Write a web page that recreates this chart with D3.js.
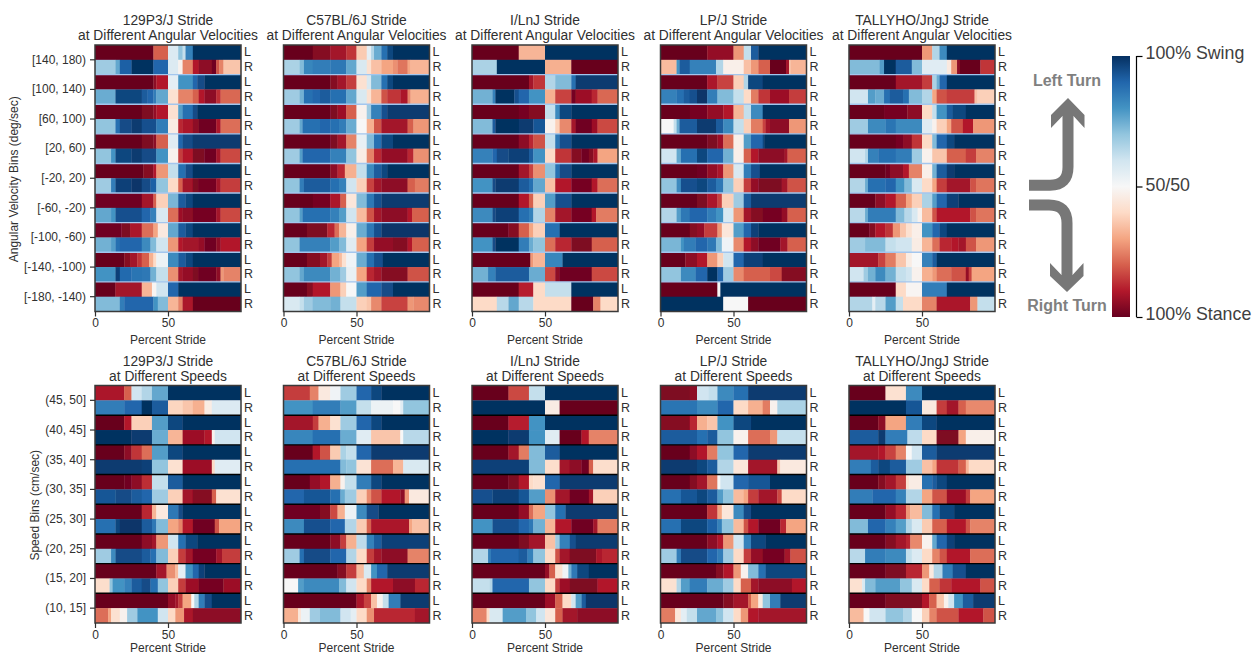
<!DOCTYPE html>
<html>
<head>
<meta charset="utf-8">
<script src="https://d3js.org/d3.v7.min.js"></script>
<style>
  body { margin: 0; background: #fff; }
  svg { display: block; }
  text { font-family: "Liberation Sans", Arial, sans-serif; fill: #303030; }
</style>
</head>
<body>
<svg id="chart" width="1257" height="656"></svg>
<script>
// every row below is a flat list: stop, value, stop, value ...
// stop = percent stride where that band ends, value = 0 (100% stance) .. 100 (100% swing)
var strains = ["129P3/J", "C57BL/6J", "I/LnJ", "LP/J", "TALLYHO/JngJ"];
var angularBins = ["[140, 180)", "[100, 140)", "[60, 100)", "[20, 60)", "[-20, 20)", "[-60, -20)", "[-100, -60)", "[-140, -100)", "[-180, -140)"];
var speedBins = ["(45, 50]", "(40, 45]", "(35, 40]", "(30, 35]", "(25, 30]", "(20, 25]", "(15, 20]", "(10, 15]"];
var sides = ["L", "R"];
var xTicks = [0, 50];
var colorStops = ["#67001f", "#b2182b", "#d6604d", "#f4a582", "#fddbc7", "#f7f7f7", "#d1e5f0", "#92c5de", "#4393c3", "#2166ac", "#053061"];

var angular129 = [
  [40,0, 50,20, 57,57, 60,70, 62,62, 67,84, 100,100],
  [14,68, 17,76, 25,91, 40,100, 50,90, 57,57, 60,48, 67,25, 71,10, 80,5, 83,1, 85,18, 88,25, 100,36],
  [40,0, 42,5, 50,10, 57,55, 67,80, 70,90, 75,95, 100,100],
  [14,75, 32,96, 36,92, 40,90, 42,85, 50,76, 57,42, 67,25, 71,20, 75,10, 83,5, 86,13, 100,21],
  [32,0, 40,3, 42,6, 50,10, 57,42, 60,78, 67,88, 70,95, 100,100],
  [14,70, 17,88, 25,95, 32,98, 42,94, 50,85, 57,46, 60,12, 67,9, 71,5, 83,1, 86,9, 100,22],
  [32,0, 40,3, 42,5, 50,20, 57,56, 60,90, 67,95, 100,98],
  [11,70, 14,80, 25,96, 32,98, 42,95, 50,80, 57,48, 60,15, 67,10, 75,3, 83,1, 86,8, 100,17],
  [33,0, 40,4, 42,10, 50,28, 57,62, 62,88, 67,95, 100,100],
  [11,68, 14,85, 25,97, 32,99, 38,95, 42,91, 50,70, 57,40, 60,20, 67,8, 71,3, 83,2, 86,8, 100,15],
  [32,1, 40,8, 42,20, 50,38, 57,73, 62,92, 67,96, 100,100],
  [11,76, 14,80, 32,94, 38,90, 42,84, 50,58, 57,22, 60,7, 67,5, 83,2, 86,8, 100,17],
  [18,1, 24,3, 32,9, 40,22, 43,30, 50,45, 57,76, 62,92, 67,96, 100,100],
  [11,74, 14,78, 17,88, 32,90, 38,82, 42,72, 50,60, 57,28, 60,10, 71,8, 75,6, 83,1, 86,5, 100,10],
  [20,0, 24,4, 29,8, 32,14, 37,20, 40,32, 42,40, 50,53, 57,82, 62,92, 67,96, 100,100],
  [14,80, 17,97, 25,89, 32,87, 38,86, 42,74, 50,62, 57,27, 60,8, 67,6, 71,3, 83,1, 86,5, 88,28, 100,25],
  [14,0, 32,8, 39,33, 42,49, 50,60, 57,90, 100,100],
  [17,72, 20,85, 40,90, 43,80, 50,72, 57,33, 60,25, 67,9, 100,0]
];
var angularC57 = [
  [20,0, 32,4, 43,8, 50,14, 57,37, 60,55, 62,65, 67,75, 71,88, 75,96, 100,100],
  [11,66, 14,72, 20,83, 32,85, 43,86, 50,76, 57,58, 60,42, 67,35, 75,30, 78,27, 85,23, 87,30, 100,33],
  [32,0, 37,4, 43,8, 50,15, 57,42, 60,58, 67,72, 71,88, 75,96, 100,100],
  [11,68, 14,74, 20,88, 25,90, 32,92, 43,88, 50,76, 57,58, 60,42, 67,33, 71,18, 80,14, 85,9, 87,25, 100,32],
  [32,0, 37,3, 43,7, 50,20, 57,48, 60,68, 67,84, 71,94, 100,98],
  [11,68, 13,76, 25,88, 32,90, 38,88, 43,85, 50,75, 57,50, 62,32, 67,18, 85,8, 89,20, 100,28],
  [32,0, 37,3, 43,8, 50,25, 57,54, 62,72, 67,88, 75,96, 100,100],
  [11,68, 13,78, 32,90, 43,84, 50,70, 57,46, 62,25, 67,12, 85,6, 89,12, 100,27],
  [32,0, 37,5, 42,12, 50,32, 57,62, 62,82, 67,92, 71,96, 100,100],
  [11,70, 14,85, 32,92, 38,88, 43,84, 50,60, 57,38, 62,16, 67,8, 85,5, 90,20, 100,24],
  [20,0, 32,2, 39,9, 43,20, 50,44, 57,72, 62,86, 67,94, 100,98],
  [11,70, 13,78, 32,88, 38,84, 43,78, 50,60, 57,34, 62,18, 67,8, 85,5, 88,10, 100,20],
  [16,0, 30,3, 35,12, 38,22, 43,33, 50,47, 57,75, 62,86, 67,94, 100,99],
  [11,70, 32,84, 38,78, 43,72, 50,56, 57,30, 62,15, 75,6, 85,4, 88,10, 100,20],
  [16,0, 25,4, 30,8, 33,15, 38,30, 40,34, 43,42, 50,52, 57,75, 62,88, 68,94, 100,100],
  [11,70, 14,76, 32,82, 39,74, 43,68, 50,54, 57,30, 62,12, 67,8, 85,4, 100,18],
  [16,0, 20,4, 32,10, 39,28, 43,38, 50,50, 57,78, 67,90, 75,95, 100,100],
  [11,58, 14,62, 20,68, 32,72, 39,74, 50,62, 57,38, 60,36, 67,26, 85,16, 89,28, 100,26]
];
var angularLnJ = [
  [32,0, 50,33, 100,100],
  [17,66, 50,100, 68,32, 100,0],
  [39,0, 42,8, 50,14, 57,65, 68,72, 71,88, 100,98],
  [14,74, 16,84, 29,100, 32,94, 39,90, 50,80, 57,32, 68,16, 71,2, 82,7, 86,12, 100,21],
  [32,0, 39,2, 50,4, 57,62, 60,82, 68,96, 100,100],
  [14,72, 16,92, 32,100, 42,98, 50,93, 57,48, 60,38, 68,26, 71,8, 82,1, 86,7, 100,17],
  [32,0, 39,5, 42,12, 50,18, 57,62, 60,86, 68,94, 100,100],
  [14,84, 17,90, 25,95, 32,97, 39,97, 42,92, 50,80, 57,40, 68,14, 75,4, 80,1, 83,4, 86,9, 100,30],
  [32,0, 39,8, 42,16, 50,27, 57,70, 60,88, 68,95, 100,100],
  [14,80, 16,95, 32,98, 39,92, 42,88, 50,76, 57,35, 68,10, 82,2, 86,10, 100,22],
  [32,0, 39,10, 42,20, 50,38, 57,78, 68,94, 100,100],
  [14,82, 16,95, 32,97, 39,88, 42,84, 50,65, 57,25, 68,8, 82,2, 85,10, 100,24],
  [25,0, 32,4, 39,20, 42,30, 50,38, 60,88, 100,100],
  [14,80, 16,95, 32,100, 39,85, 42,75, 50,70, 57,22, 68,12, 82,3, 100,20],
  [40,0, 42,28, 50,33, 62,83, 100,100],
  [11,74, 16,84, 39,92, 50,75, 57,17, 60,5, 82,1, 100,17],
  [32,0, 42,11, 50,40, 68,62, 100,100],
  [17,40, 25,64, 32,76, 42,64, 68,40, 83,0, 88,25, 100,40]
];
var angularLP = [
  [32,0, 50,6, 57,28, 62,62, 67,92, 100,100],
  [11,34, 13,80, 20,92, 38,84, 43,65, 57,47, 62,35, 67,28, 75,20, 86,0, 88,8, 89,36, 100,33],
  [32,0, 39,9, 50,16, 57,38, 60,65, 70,96, 100,100],
  [11,84, 16,88, 20,92, 25,94, 32,99, 39,85, 50,72, 57,62, 62,40, 67,24, 75,14, 88,7, 100,15],
  [20,0, 32,2, 43,6, 50,10, 57,33, 62,62, 70,82, 100,100],
  [9,50, 11,62, 13,75, 25,92, 38,98, 43,92, 50,82, 57,62, 62,38, 70,24, 72,16, 75,8, 88,5, 100,28],
  [32,0, 39,3, 43,7, 50,22, 57,47, 62,78, 70,90, 71,96, 100,100],
  [11,60, 14,76, 25,88, 32,96, 43,90, 50,74, 57,47, 62,20, 67,10, 85,5, 87,8, 100,20],
  [25,0, 32,1, 39,6, 43,9, 50,28, 57,58, 62,85, 68,94, 100,100],
  [11,70, 14,82, 25,94, 32,96, 38,92, 43,86, 50,70, 57,38, 62,15, 67,6, 83,3, 87,8, 100,18],
  [25,0, 32,3, 39,9, 42,16, 50,38, 57,68, 62,92, 100,98],
  [11,65, 14,78, 20,86, 32,90, 38,85, 43,80, 50,58, 57,28, 62,8, 70,4, 83,2, 87,6, 100,20],
  [20,0, 25,4, 30,6, 39,15, 42,28, 50,44, 57,78, 62,90, 67,97, 100,100],
  [14,73, 16,80, 24,85, 32,90, 38,86, 42,72, 50,52, 57,26, 62,10, 67,5, 82,1, 87,8, 100,20],
  [17,0, 25,5, 32,10, 39,28, 43,38, 50,60, 57,90, 70,97, 100,100],
  [14,70, 24,82, 32,90, 39,100, 43,90, 50,68, 57,26, 75,20, 83,17, 100,4],
  [39,0, 41,50, 100,100],
  [43,100, 60,50, 100,0]
];
var angularTally = [
  [50,0, 57,28, 62,65, 67,82, 100,100],
  [21,72, 24,78, 32,100, 43,92, 50,72, 67,56, 70,45, 74,28, 76,5, 90,0, 100,14],
  [32,0, 50,8, 57,15, 60,66, 62,75, 67,90, 100,100],
  [13,60, 18,78, 24,75, 28,88, 37,92, 41,88, 50,72, 57,65, 60,30, 67,18, 86,15, 88,35, 100,38],
  [24,0, 40,2, 50,5, 57,40, 60,62, 67,80, 71,92, 80,96, 100,100],
  [13,68, 25,82, 32,87, 50,82, 57,56, 60,48, 67,38, 70,30, 78,18, 85,10, 100,28],
  [32,0, 37,2, 43,5, 50,14, 57,40, 60,72, 67,90, 72,96, 100,100],
  [11,60, 13,65, 20,84, 32,88, 43,85, 50,68, 57,48, 67,36, 80,20, 87,15, 100,25],
  [25,0, 28,1, 37,5, 41,10, 50,25, 57,47, 60,74, 67,92, 72,98, 100,100],
  [11,65, 13,75, 25,88, 32,90, 38,80, 43,72, 50,58, 57,40, 60,30, 67,15, 83,8, 87,18, 100,23],
  [18,0, 25,5, 32,10, 39,20, 43,30, 50,38, 57,66, 60,78, 67,90, 75,97, 100,100],
  [11,64, 13,75, 32,85, 38,72, 43,64, 47,58, 50,48, 57,34, 60,18, 83,10, 87,18, 100,23],
  [14,0, 18,4, 25,10, 30,14, 35,28, 39,36, 43,42, 50,47, 57,80, 62,90, 67,96, 100,100],
  [11,68, 25,72, 32,62, 43,60, 50,46, 57,33, 62,22, 70,12, 75,10, 80,8, 87,18, 100,28],
  [20,8, 25,16, 32,24, 39,36, 43,46, 50,50, 57,84, 60,92, 100,100],
  [10,60, 13,68, 18,74, 25,82, 32,74, 39,62, 43,60, 50,48, 57,32, 60,28, 70,22, 80,18, 82,6, 84,16, 100,30],
  [32,0, 39,40, 50,49, 67,85, 100,100],
  [16,65, 18,55, 25,64, 32,78, 37,62, 50,40, 60,25, 83,9, 88,28, 100,62]
];
var speed129 = [
  [20,9, 25,20, 32,60, 39,65, 50,76, 100,100],
  [20,85, 32,90, 39,100, 50,92, 60,39, 67,36, 75,32, 80,46, 100,57],
  [20,0, 25,10, 39,38, 50,78, 60,96, 100,100],
  [25,100, 39,98, 50,75, 60,33, 75,7, 80,10, 82,48, 100,60],
  [20,0, 25,5, 32,14, 39,22, 50,78, 60,96, 100,100],
  [32,98, 39,97, 50,70, 60,42, 80,7, 82,40, 100,56],
  [20,0, 25,1, 32,5, 39,13, 50,62, 60,92, 100,100],
  [14,93, 25,95, 32,92, 39,90, 50,68, 60,38, 67,8, 80,4, 83,20, 100,42],
  [32,0, 39,12, 42,33, 50,45, 57,86, 60,95, 100,100],
  [14,88, 17,96, 32,99, 39,92, 42,86, 50,72, 57,30, 60,25, 67,10, 82,1, 85,18, 100,30],
  [32,0, 39,5, 42,8, 50,28, 57,60, 62,88, 70,96, 100,100],
  [11,68, 14,82, 32,95, 38,92, 42,88, 50,72, 57,38, 62,15, 67,8, 83,2, 87,8, 100,15],
  [42,0, 49,8, 55,27, 57,34, 62,55, 67,80, 71,90, 75,97, 100,100],
  [10,41, 12,70, 20,80, 25,84, 32,92, 38,95, 43,88, 50,70, 57,38, 62,15, 71,7, 88,2, 100,7],
  [50,0, 55,6, 57,8, 60,15, 66,30, 68,50, 71,65, 75,85, 80,95, 100,100],
  [9,22, 11,30, 17,42, 22,48, 29,68, 43,80, 50,60, 55,40, 61,28, 67,9, 100,5]
];
var speedC57 = [
  [18,15, 24,25, 32,45, 39,52, 50,68, 60,90, 67,96, 100,100],
  [20,80, 39,85, 50,78, 60,62, 75,53, 80,50, 82,56, 100,70],
  [20,8, 24,15, 32,32, 39,42, 50,68, 60,90, 67,96, 100,100],
  [20,83, 39,88, 50,75, 60,56, 80,36, 82,50, 100,64],
  [20,0, 25,10, 32,18, 39,37, 43,66, 50,62, 60,90, 100,98],
  [39,88, 43,72, 50,70, 60,43, 75,22, 82,33, 100,58],
  [18,0, 25,6, 32,10, 39,32, 42,48, 50,62, 60,85, 67,96, 100,100],
  [14,90, 32,93, 39,88, 42,75, 50,68, 57,38, 60,26, 67,18, 80,10, 83,5, 86,28, 100,45],
  [25,1, 32,4, 37,17, 42,32, 50,53, 57,82, 65,95, 100,100],
  [14,82, 32,94, 42,90, 50,65, 57,37, 60,20, 86,9, 88,30, 100,35],
  [32,0, 39,5, 43,15, 50,32, 57,63, 62,84, 67,92, 100,97],
  [11,68, 14,88, 32,95, 43,90, 50,65, 57,40, 62,15, 67,8, 85,5, 100,25],
  [37,0, 43,4, 50,15, 55,34, 60,58, 64,80, 71,90, 100,98],
  [10,50, 14,78, 38,82, 43,72, 50,60, 57,40, 60,25, 75,10, 90,5, 100,12],
  [50,0, 55,9, 60,16, 64,35, 68,48, 72,62, 80,85, 100,98],
  [10,32, 12,44, 18,53, 25,68, 39,72, 46,60, 50,55, 57,40, 62,27, 90,12, 100,8]
];
var speedLnJ = [
  [25,0, 39,17, 50,62, 100,100],
  [50,100, 60,46, 100,0],
  [25,0, 39,11, 50,80, 100,100],
  [25,100, 39,98, 50,80, 60,56, 75,0, 80,10, 100,25],
  [25,0, 32,8, 39,24, 50,72, 60,92, 100,100],
  [39,97, 50,72, 60,41, 67,8, 75,5, 80,1, 83,20, 100,41],
  [25,0, 32,3, 39,10, 42,40, 50,42, 60,90, 100,98],
  [14,94, 32,97, 39,93, 50,78, 57,27, 67,8, 80,1, 83,8, 100,38],
  [32,0, 39,6, 42,22, 50,30, 57,70, 64,88, 100,98],
  [14,80, 32,94, 39,90, 42,86, 50,74, 57,33, 68,10, 83,1, 86,8, 100,24],
  [32,0, 39,3, 50,8, 57,35, 60,68, 67,84, 71,94, 100,98],
  [11,65, 13,85, 32,90, 38,92, 42,84, 50,70, 57,40, 60,18, 67,8, 85,3, 89,9, 100,12],
  [50,0, 53,6, 57,20, 62,42, 66,52, 68,74, 72,86, 80,96, 100,100],
  [12,62, 14,65, 39,90, 50,70, 57,40, 60,15, 67,7, 86,3, 100,10],
  [50,0, 57,7, 62,20, 68,40, 71,60, 75,78, 78,92, 100,99],
  [10,25, 12,40, 21,58, 37,78, 44,70, 50,60, 57,44, 62,20, 72,8, 100,5]
];
var speedLP = [
  [20,3, 25,5, 33,60, 39,62, 50,82, 60,88, 100,98],
  [25,87, 39,82, 50,90, 60,40, 70,32, 75,24, 80,48, 100,66],
  [20,4, 25,12, 32,32, 39,36, 50,80, 62,96, 100,100],
  [25,92, 32,88, 39,92, 50,70, 60,48, 75,22, 80,28, 100,62],
  [20,0, 25,5, 32,10, 39,24, 50,70, 60,90, 100,98],
  [25,98, 32,96, 39,92, 50,65, 60,44, 80,8, 82,36, 100,45],
  [20,0, 25,4, 32,8, 39,23, 41,50, 50,60, 60,90, 75,93, 100,100],
  [14,88, 25,93, 32,96, 39,92, 43,78, 50,70, 57,34, 60,30, 67,15, 80,8, 83,17, 100,40],
  [32,0, 39,14, 42,30, 50,44, 57,82, 62,95, 100,100],
  [14,88, 32,96, 39,91, 42,84, 50,70, 57,34, 60,18, 67,10, 82,1, 86,12, 100,30],
  [32,0, 39,5, 43,10, 50,28, 57,60, 62,84, 72,96, 100,100],
  [11,68, 14,85, 32,95, 39,90, 43,85, 50,68, 57,40, 62,15, 70,6, 85,2, 89,8, 100,18],
  [38,0, 43,4, 50,10, 55,28, 60,48, 67,72, 72,88, 100,96],
  [11,42, 14,65, 20,78, 32,85, 43,75, 50,68, 55,40, 62,20, 67,8, 90,5, 100,10],
  [43,0, 50,4, 60,8, 62,20, 67,30, 70,45, 75,70, 82,85, 100,98],
  [10,24, 14,44, 18,55, 25,62, 38,76, 43,70, 50,60, 55,40, 60,28, 67,10, 100,8]
];
var speedTally = [
  [25,0, 39,42, 50,82, 100,100],
  [39,100, 50,93, 60,45, 67,15, 75,8, 80,20, 100,26],
  [20,0, 25,5, 39,30, 50,85, 60,96, 100,100],
  [20,92, 25,98, 40,85, 50,63, 60,40, 75,3, 80,30, 100,47],
  [20,8, 25,10, 32,16, 39,25, 43,50, 50,60, 60,92, 100,98],
  [15,85, 20,92, 28,96, 39,92, 50,68, 57,35, 60,30, 75,14, 80,20, 82,33, 100,40],
  [20,0, 25,4, 32,8, 39,15, 41,42, 50,46, 57,88, 60,92, 67,96, 100,100],
  [16,85, 32,90, 39,84, 50,65, 57,30, 67,18, 80,7, 83,15, 100,30],
  [25,0, 32,6, 39,12, 42,28, 50,34, 57,72, 62,88, 72,96, 100,100],
  [13,72, 25,90, 32,84, 39,78, 43,65, 50,58, 57,37, 67,20, 80,10, 83,18, 100,25],
  [25,0, 32,4, 39,8, 42,12, 50,26, 57,48, 60,76, 67,90, 72,97, 100,100],
  [11,64, 25,85, 39,82, 43,62, 50,57, 57,40, 62,25, 67,18, 83,10, 100,22],
  [25,0, 39,3, 50,12, 55,28, 58,45, 64,65, 71,85, 80,94, 100,100],
  [9,42, 11,58, 18,72, 35,78, 43,70, 50,58, 55,40, 62,20, 70,14, 90,10, 100,18],
  [25,0, 50,3, 55,10, 60,20, 65,36, 68,48, 72,60, 78,80, 85,92, 100,98],
  [10,34, 14,50, 25,60, 37,70, 43,65, 50,50, 55,38, 60,25, 75,18, 92,10, 100,18]
];

var angularPanels = [angular129, angularC57, angularLnJ, angularLP, angularTally];
var speedPanels = [speed129, speedC57, speedLnJ, speedLP, speedTally];

var svg = d3.select("#chart");

var panelW = 146;
var panelGap = 188.5;
var firstX = 95;

var color = d3.scaleLinear()
    .domain(colorStops.map(function (c, i) { return i * 10; }))
    .range(colorStops);

var defs = svg.append("defs");

// the original heatmaps are resampled images, so the band edges are slightly soft
defs.append("filter")
    .attr("id", "soft")
    .attr("x", "-5%").attr("y", "-5%")
    .attr("width", "110%").attr("height", "110%")
    .append("feGaussianBlur")
    .attr("stdDeviation", "0.55 0.3");

var panelCount = 0;

function drawPanel(rows, strain, subtitle, bins, left, top, height, lineColor, xLabelY, yTitle, yTitleX) {
    var g = svg.append("g").attr("transform", "translate(" + left + "," + top + ")");

    var x = d3.scaleLinear().domain([0, 100]).range([0, panelW]);
    var yRow = d3.scaleBand().domain(d3.range(rows.length)).range([0, height]);
    var yBin = d3.scaleBand().domain(bins).range([0, height]);

    var clipId = "clip" + (panelCount++);
    defs.append("clipPath").attr("id", clipId)
        .append("rect").attr("width", panelW).attr("height", height);

    var heat = g.append("g")
        .attr("clip-path", "url(#" + clipId + ")")
        .append("g")
        .attr("filter", "url(#soft)");

    // one rect per band of a row, the first and last run past the frame so the blur stays hidden
    var row = heat.selectAll("g.row")
        .data(rows)
        .enter().append("g")
        .attr("class", "row")
        .attr("transform", function (d, i) { return "translate(0," + yRow(i) + ")"; });

    row.selectAll("rect")
        .data(function (d) {
            var out = [];
            var start = 0;
            for (var i = 0; i < d.length; i += 2) {
                out.push({ start: start, stop: d[i], value: d[i + 1] });
                start = d[i];
            }
            return out;
        })
        .enter().append("rect")
        .attr("x", function (d) { return d.start === 0 ? -3 : x(d.start); })
        .attr("width", function (d) {
            return x(d.stop) - x(d.start) + (d.start === 0 ? 3.3 : 0.3) + (d.stop === 100 ? 3 : 0);
        })
        .attr("height", yRow.bandwidth() + 0.3)
        .attr("fill", function (d) { return color(d.value); });

    // lines between the L/R pairs
    g.selectAll("line.sep")
        .data(bins.slice(1))
        .enter().append("line")
        .attr("class", "sep")
        .attr("x1", 0)
        .attr("x2", panelW)
        .attr("y1", function (d) { return yBin(d); })
        .attr("y2", function (d) { return yBin(d); })
        .attr("stroke", lineColor)
        .attr("stroke-width", 1.4);

    g.append("rect")
        .attr("width", panelW)
        .attr("height", height)
        .attr("fill", "none")
        .attr("stroke", "#3a3a3a")
        .attr("stroke-width", 1.5);

    var xAxis = d3.axisBottom(x).tickValues(xTicks).tickSize(5).tickPadding(2);
    var xg = g.append("g").attr("transform", "translate(0," + height + ")").call(xAxis);
    xg.select(".domain").remove();
    xg.selectAll("line").attr("stroke", "#303030").attr("stroke-width", 1.2);
    xg.selectAll("text").attr("font-size", 12).attr("font-family", "Liberation Sans").style("fill", "#303030");

    xg.append("text")
        .attr("x", panelW / 2)
        .attr("y", xLabelY)
        .attr("text-anchor", "middle")
        .attr("font-size", 12)
        .text("Percent Stride");

    // L / R labels on the right side
    var sideAxis = d3.axisRight(yRow)
        .tickSize(0)
        .tickPadding(3)
        .tickFormat(function (d) { return sides[d % 2]; });
    var sg = g.append("g").attr("transform", "translate(" + panelW + ",0)").call(sideAxis);
    sg.select(".domain").remove();
    sg.selectAll("text").attr("font-size", 12.5).attr("font-family", "Liberation Sans").style("fill", "#303030");

    if (yTitle) {
        var yg = g.append("g").call(d3.axisLeft(yBin).tickSize(5).tickPadding(4));
        yg.select(".domain").remove();
        yg.selectAll("line").attr("stroke", "#303030").attr("stroke-width", 1.2);
        yg.selectAll("text").attr("font-size", 12).attr("font-family", "Liberation Sans").style("fill", "#303030");

        svg.append("text")
            .attr("transform", "translate(" + yTitleX + "," + (top + height / 2 + 1) + ") rotate(-90)")
            .attr("text-anchor", "middle")
            .attr("font-size", 12)
            .text(yTitle);
    }

    var title = g.append("text")
        .attr("text-anchor", "middle")
        .attr("font-size", 13.8);
    title.append("tspan").attr("x", panelW / 2).attr("y", -20).text(strain + " Stride");
    title.append("tspan").attr("x", panelW / 2).attr("y", -5).text(subtitle);
}

strains.forEach(function (s, i) {
    var left = firstX + i * panelGap;
    drawPanel(angularPanels[i], s, "at Different Angular Velocities", angularBins, left, 45, 266.5, "#a3c6ee", 32,
        i === 0 ? "Angular Velocity Bins (deg/sec)" : null, 18);
    drawPanel(speedPanels[i], s, "at Different Speeds", speedBins, left, 385.5, 237.5, "#000", 29,
        i === 0 ? "Speed Bins (cm/sec)" : null, 39);
});

// ##################
// # Colorbar       #
// ##################
var barTop = 56;
var barH = 261;
var barScale = d3.scaleLinear().domain([0, 100]).range([barTop + barH, barTop]);

var gradient = defs.append("linearGradient")
    .attr("id", "barGradient")
    .attr("x1", 0).attr("x2", 0)
    .attr("y1", 1).attr("y2", 0);
gradient.selectAll("stop")
    .data(colorStops)
    .enter().append("stop")
    .attr("offset", function (d, i) { return i / (colorStops.length - 1); })
    .attr("stop-color", function (d) { return d; });

svg.append("rect")
    .attr("x", 1112)
    .attr("y", barTop)
    .attr("width", 18)
    .attr("height", barH)
    .attr("fill", "url(#barGradient)");

var barLabels = ["100% Stance", "50/50", "100% Swing"];
var barAxis = d3.axisRight(barScale)
    .tickValues([0, 50, 100])
    .tickSize(6)
    .tickPadding(3)
    .tickFormat(function (d) { return barLabels[d / 50]; });
var bg = svg.append("g").attr("transform", "translate(1136.5,0)").call(barAxis);
bg.select(".domain").attr("stroke", "#000").attr("stroke-width", 1.2).attr("d", "M0," + barTop + "V" + (barTop + barH));
bg.selectAll("line").attr("stroke", "#000").attr("stroke-width", 1.2);
bg.selectAll("text")
    .attr("font-size", 17.8)
    .attr("font-family", "DejaVu Sans")
    .attr("dy", function (d) { return d === 50 ? "0.25em" : "0.16em"; })
    .style("fill", "#404040");

// ##################
// # Turn arrows    #
// ##################
var arrowGray = "#777777";

svg.append("path")
    .attr("d", "M1029,185.3 L1050,185.3 Q1068,185.3 1068,167 L1068,110")
    .attr("fill", "none")
    .attr("stroke", arrowGray)
    .attr("stroke-width", 11);
svg.append("path")
    .attr("d", "M1068,98 L1084.5,115 L1084.5,128 L1073.5,116 L1062.5,116 L1051,128 L1051,115 Z")
    .attr("fill", arrowGray);

svg.append("path")
    .attr("d", "M1029,205 L1049,205 Q1067,205 1067,223 L1067,282")
    .attr("fill", "none")
    .attr("stroke", arrowGray)
    .attr("stroke-width", 11);
svg.append("path")
    .attr("d", "M1050,263 L1061.5,275 L1072.5,275 L1083.5,263 L1083.5,276 L1067,292 L1050,276 Z")
    .attr("fill", arrowGray);

svg.append("text")
    .attr("x", 1067).attr("y", 85.5)
    .attr("text-anchor", "middle")
    .attr("font-size", 16)
    .attr("font-weight", "bold")
    .attr("font-family", "DejaVu Sans")
    .style("fill", "#808080")
    .text("Left Turn");
svg.append("text")
    .attr("x", 1067).attr("y", 310.5)
    .attr("text-anchor", "middle")
    .attr("font-size", 16)
    .attr("font-weight", "bold")
    .attr("font-family", "DejaVu Sans")
    .style("fill", "#808080")
    .text("Right Turn");
</script>
</body>
</html>
